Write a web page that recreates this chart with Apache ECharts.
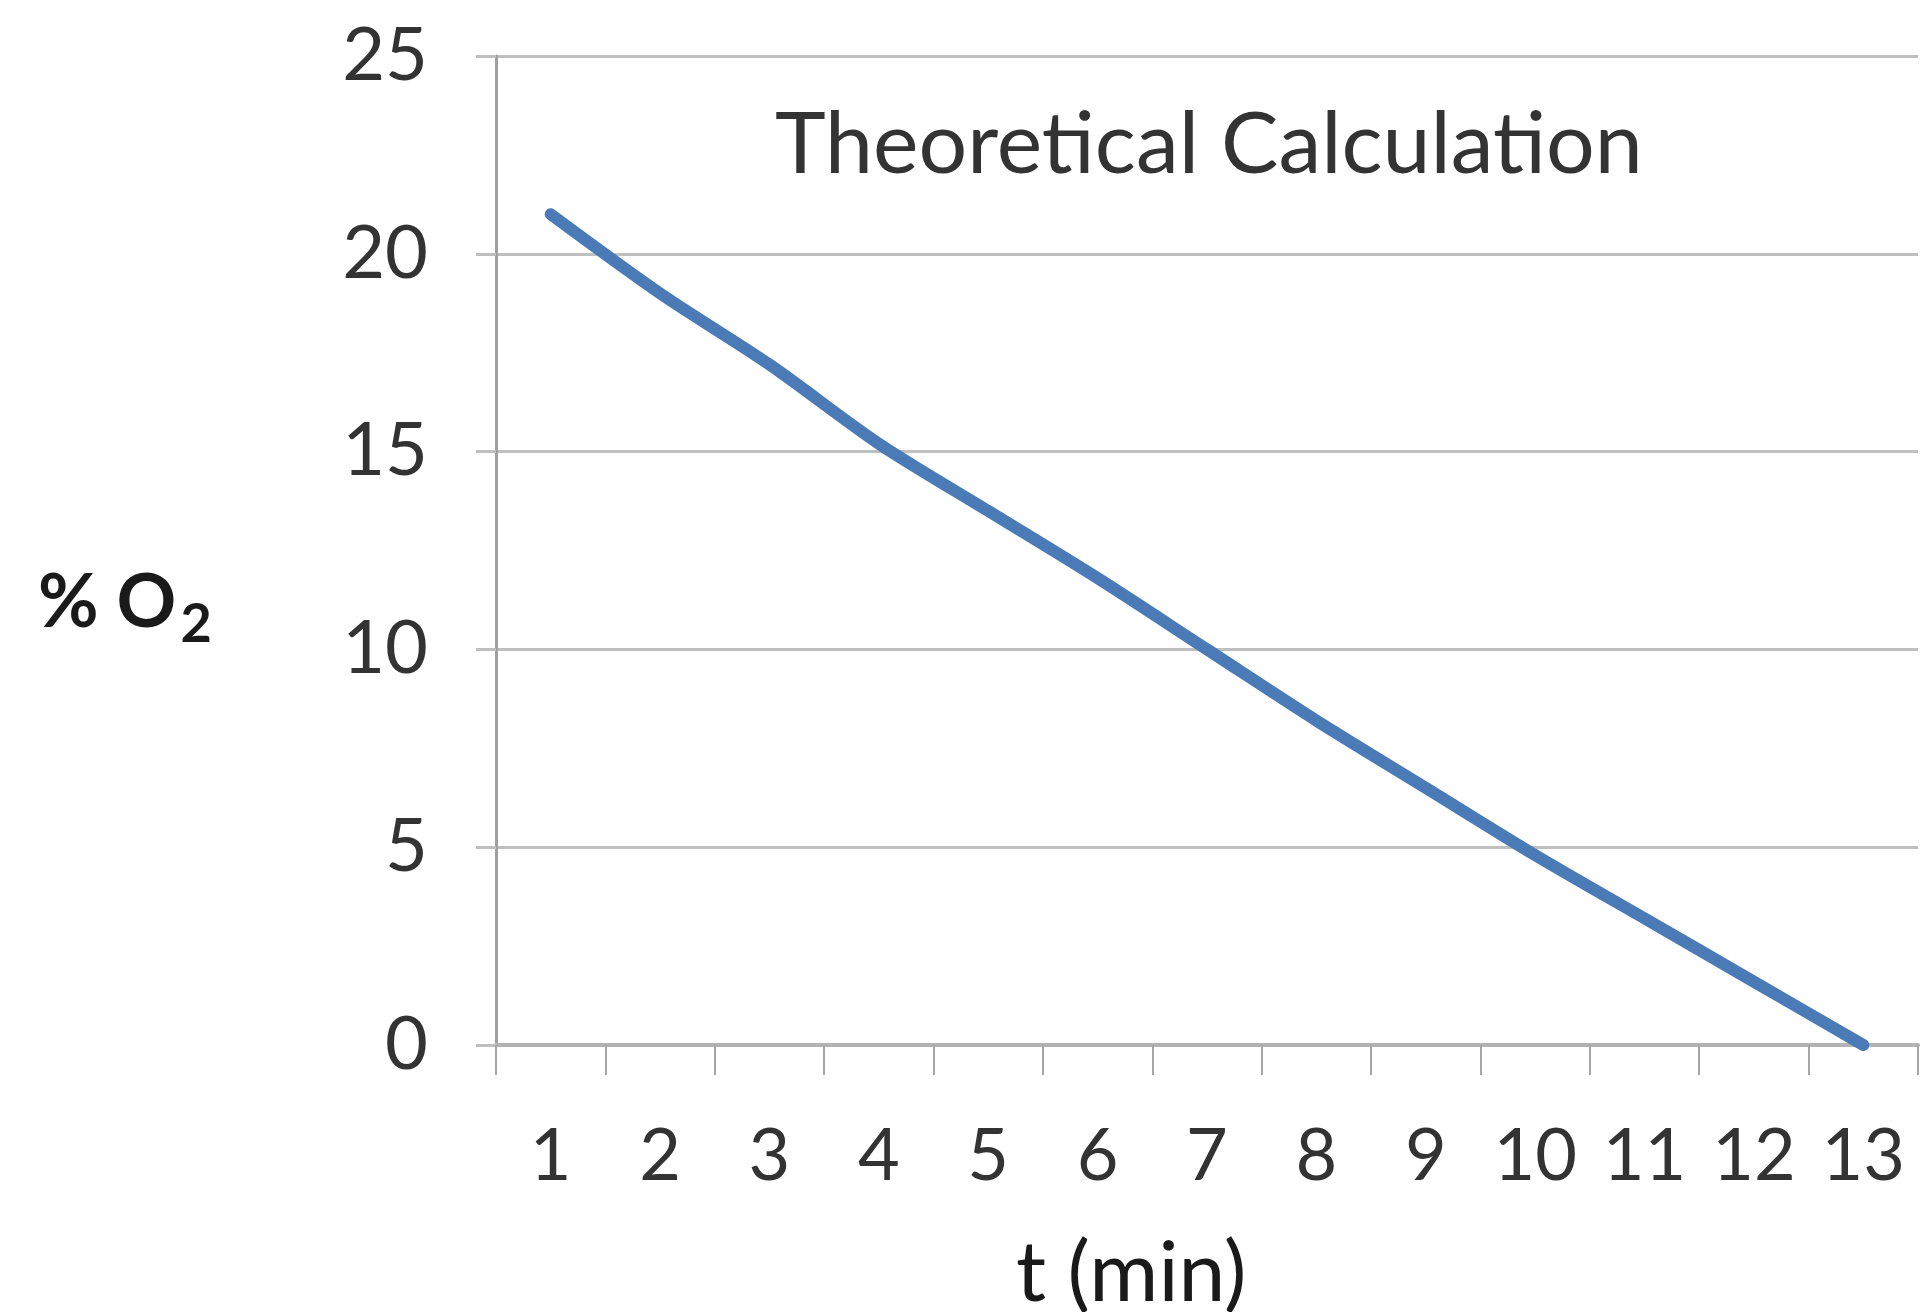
<!DOCTYPE html>
<html>
<head>
<meta charset="utf-8">
<title>Theoretical Calculation</title>
<script src="https://cdn.jsdelivr.net/npm/echarts@6/dist/echarts.min.js"></script>
<style>
    html, body { margin: 0; padding: 0; background: #fff; }
    #chart { width: 1924px; height: 1312px; }
</style>
</head>
<body>
<div id="chart"></div>
<script>
// time in minutes
const minutes = ['1', '2', '3', '4', '5', '6', '7', '8', '9', '10', '11', '12', '13'];
// % O2 values
const oxygen = [21, 19.0, 17.2, 15.2, 13.5, 11.8, 10.0, 8.2, 6.5, 4.8, 3.2, 1.6, 0];
const yTicks = { min: 0, max: 25, step: 5 };

const chartTitle = 'Theoretical Calculation';
const xName = 't (min)';

const font = 'Lato, "Open Sans", sans-serif';
const gridColor = '#bfbfbf';
const textColor = '#333';

let chart = echarts.init(document.getElementById('chart'));

let option = {
    backgroundColor: '#fff',
    animation: false,
    title: [{
        text: chartTitle,
        left: 775,
        top: 102,
        padding: 0,
        textStyle: {
            fontFamily: font,
            fontSize: 86,
            fontWeight: 'normal',
            color: textColor
        }
    }, {
        text: xName,
        left: 1016,
        top: 1232,
        padding: 0,
        textStyle: {
            fontFamily: font,
            fontSize: 84,
            fontWeight: 'normal',
            color: '#1a1a1a'
        }
    }, {
        // y axis name with subscript
        text: '{a|% O}{b|2}',
        left: 38,
        top: 566,
        padding: 0,
        textStyle: {
            rich: {
                a: { fontFamily: font, fontSize: 74, color: '#1a1a1a', verticalAlign: 'bottom' },
                b: { fontFamily: font, fontSize: 54, color: '#1a1a1a', padding: [0, 0, -12, 4], verticalAlign: 'bottom' }
            }
        }
    }],
    grid: {
        left: 496,
        right: 6,
        top: 56,
        bottom: 267
    },
    xAxis: {
        type: 'category',
        data: minutes,
        boundaryGap: true,
        axisLine: {
            lineStyle: { color: '#b3b3b3', width: 4 }
        },
        axisTick: {
            show: true,
            length: 30,
            lineStyle: { color: '#a6a6a6', width: 2 }
        },
        axisLabel: {
            fontFamily: font,
            fontSize: 72,
            color: textColor,
            margin: 76,
            interval: 0
        },
        splitLine: { show: false }
    },
    yAxis: {
        type: 'value',
        min: yTicks.min,
        max: yTicks.max,
        interval: yTicks.step,
        axisLine: {
            show: true,
            lineStyle: { color: '#a0a0a0', width: 3 }
        },
        axisTick: {
            show: true,
            length: 20,
            lineStyle: { color: gridColor, width: 3 }
        },
        axisLabel: {
            fontFamily: font,
            fontSize: 74,
            color: textColor,
            margin: 68
        },
        splitLine: {
            show: true,
            lineStyle: { color: gridColor, width: 3 }
        }
    },
    series: [{
        name: '% O2',
        type: 'line',
        data: oxygen,
        smooth: 0.3,
        symbol: 'none',
        lineStyle: {
            color: '#4a7bb7',
            width: 12,
            cap: 'round'
        }
    }]
};

chart.setOption(option);
</script>
</body>
</html>
